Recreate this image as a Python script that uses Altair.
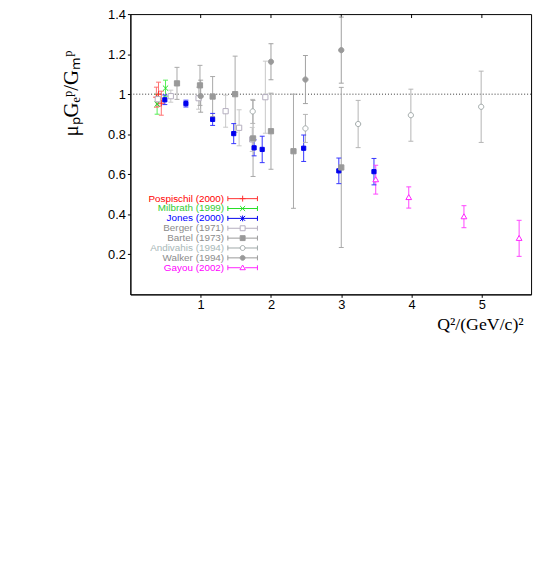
import altair as alt
import pandas as pd

# ---------------- data ----------------
series_names = ["Pospischil (2000)", "Milbrath (1999)", "Jones (2000)", "Berger (1971)",
                "Bartel (1973)", "Andivahis (1994)", "Walker (1994)", "Gayou (2002)"]

pos_q2 = [0.37, 0.40, 0.44]
pos_r = [0.985, 1.00, 0.955]
pos_e = [0.05, 0.06, 0.06]

mil_q2 = [0.38, 0.50]
mil_r = [0.95, 1.03]
mil_e = [0.05, 0.04]

jon_q2 = [0.49, 0.79, 1.17, 1.47, 1.76, 1.875, 2.465, 2.965, 3.465]
jon_r = [0.972, 0.953, 0.874, 0.803, 0.732, 0.724, 0.730, 0.617, 0.613]
jon_e = [0.024, 0.017, 0.030, 0.050, 0.040, 0.066, 0.066, 0.064, 0.066]

ber_q2 = [0.39, 0.575, 0.97, 1.355, 1.547, 1.733, 1.92]
ber_r = [0.975, 0.99, 0.98, 0.915, 0.832, 0.774, 0.985]
ber_e = [0.03, 0.03, 0.055, 0.08, 0.09, 0.06, 0.18]

bar_q2 = [0.663, 0.99, 1.17, 1.49, 1.745, 2.0, 2.32, 3.0]
bar_r = [1.054, 1.044, 0.988, 1.0, 0.779, 0.815, 0.715, 0.634]
bar_e = [0.08, 0.10, 0.10, 0.19, 0.19, 0.19, 0.285, 0.40]

and_q2 = [1.74, 2.49, 3.24, 3.99, 4.99]
and_r = [0.914, 0.829, 0.851, 0.895, 0.937]
and_e = [0.06, 0.07, 0.118, 0.13, 0.178]

wal_q2 = [1.0, 2.0, 2.49, 3.0]
wal_r = [0.99, 1.162, 1.073, 1.22]
wal_e = [0.08, 0.09, 0.12, 0.165]

gay_q2 = [3.49, 3.96, 4.745, 5.53]
gay_r = [0.573, 0.484, 0.388, 0.280]
gay_e = [0.072, 0.053, 0.055, 0.09]

y_ticks = [0.2, 0.4, 0.6, 0.8, 1.0, 1.2, 1.4]
x_ticks = [1, 2, 3, 4, 5]
ref_level = [1.0]

# ---------------- styling ----------------
stroke_colors = ["#ff3030", "#22dd22", "#0000ee", "#b4aebe", "#999999", "#a0a8a8", "#999999", "#ff22ff"]
fill_colors = ["#ff3030", "#22dd22", "#0000ee", "#ffffff", "#999999", "#ffffff", "#999999", "#ffffff"]
err_colors = ["#ff7070", "#55ee55", "#3333ff", "#c8c8c8", "#a8a8a8", "#b4b4b4", "#a0a0a0", "#ff44ff"]
label_colors = ["#ff0000", "#33cc33", "#0000ff", "#8c8c8c", "#8c8c8c", "#a8b8b8", "#8c8c8c", "#ff00ff"]

plot_paths = [
    "M-1.2,0H1.2M0,-1.2V1.2",
    "M-1,-1L1,1M-1,1L1,-1",
    "M-0.8,-0.8H0.8V0.8H-0.8Z",
    "M-1,-1H1V1H-1Z",
    "M-1,-1H1V1H-1Z",
    "M-1,0A1,1,0,1,0,1,0A1,1,0,1,0,-1,0Z",
    "M-1,0A1,1,0,1,0,1,0A1,1,0,1,0,-1,0Z",
    "M0,-1.1L1.1,0.8H-1.1Z",
]
# legend symbols: marker shifted to the right, with a horizontal error-bar line
legend_paths = [
    "M3.5,0H15.5M3.5,-1V1M15.5,-1V1M8.3,0H10.7M9.5,-1.2V1.2",
    "M3.5,0H15.5M3.5,-1V1M15.5,-1V1M8.5,-1L10.5,1M8.5,1L10.5,-1",
    "M3.5,0H15.5M3.5,-1V1M15.5,-1V1M8.5,-1L10.5,1M8.5,1L10.5,-1M9.5,-1.2V1.2",
    "M3.5,0H8.5M10.5,0H15.5M3.5,-1V1M15.5,-1V1M8.5,-1H10.5V1H8.5Z",
    "M3.5,0H8.5M10.5,0H15.5M3.5,-1V1M15.5,-1V1M8.5,-1H10.5V1H8.5Z",
    "M3.5,0H8.5M10.5,0H15.5M3.5,-1V1M15.5,-1V1M8.5,0A1,1,0,1,0,10.5,0A1,1,0,1,0,8.5,0Z",
    "M3.5,0H8.5M10.5,0H15.5M3.5,-1V1M15.5,-1V1M8.5,0A1,1,0,1,0,10.5,0A1,1,0,1,0,8.5,0Z",
    "M3.5,0H8.5M10.5,0H15.5M3.5,-1V1M15.5,-1V1M9.5,-1.1L10.6,0.8H8.4Z",
]

# ---------------- table ----------------
groups = [(pos_q2, pos_r, pos_e), (mil_q2, mil_r, mil_e), (jon_q2, jon_r, jon_e),
          (ber_q2, ber_r, ber_e), (bar_q2, bar_r, bar_e), (and_q2, and_r, and_e),
          (wal_q2, wal_r, wal_e), (gay_q2, gay_r, gay_e)]
rows = []
for name, (qs, rs, es) in zip(series_names, groups):
    for q, r, e in zip(qs, rs, es):
        rows.append({"series": name, "q2": q, "r": r, "lo": r - e, "hi": r + e})
df = pd.DataFrame(rows)
legend_df = pd.DataFrame({"series": series_names})
ref_df = pd.DataFrame({"v": ref_level})
top_df = pd.DataFrame({"t": x_ticks})

xscale = alt.Scale(domain=[0, 5.7], nice=False, zero=False)
yscale = alt.Scale(domain=[0, 1.4], nice=False, zero=False)

x_title = "Q²/(GeV/c)²"
y_title = "μₚGₑᵖ/Gₘᵖ"

x_axis = alt.Axis(values=x_ticks, format="d", tickSize=3, labelPadding=1, labelFontSize=13,
                  labelFont="Liberation Sans", labelColor="black", domainColor="black",
                  tickColor="black", grid=False, titleFont="Liberation Serif",
                  titleFontSize=18, titleFontWeight="normal", titleColor="black",
                  titleAlign="right", titleX=398, titleY=36, titleBaseline="alphabetic")
y_axis = alt.Axis(values=y_ticks, format=".1~f", tickSize=3, labelPadding=2, labelFontSize=13,
                  labelFont="Liberation Sans", labelColor="black", domainColor="black",
                  tickColor="black", grid=False, titleFont="Liberation Serif",
                  titleFontSize=21, titleFontWeight="normal", titleColor="black",
                  titleAngle=270, titleAlign="center", titleBaseline="alphabetic",
                  titleX=-54, titleY=80)

dom = series_names
X = lambda f: alt.X(f, scale=xscale, axis=x_axis, title=x_title)
Y = lambda f: alt.Y(f, scale=yscale, axis=y_axis, title=y_title)

ref_line = alt.Chart(ref_df).mark_rule(strokeDash=[1, 2], color="#333333", strokeWidth=1).encode(
    y=Y("v:Q"))

top_ticks = alt.Chart(top_df).mark_rule(color="black", strokeWidth=1).encode(
    x=X("t:Q"), y=alt.value(0), y2=alt.value(4))

err = alt.Chart(df).mark_rule(strokeWidth=1, opacity=1).encode(
    x=X("q2:Q"), y=Y("lo:Q"), y2="hi:Q",
    color=alt.Color("series:N", scale=alt.Scale(domain=dom, range=err_colors), legend=None))

caps = alt.Chart(df).transform_fold(["lo", "hi"], as_=["end", "yv"]).mark_tick(
    orient="horizontal", size=5, thickness=1, opacity=1).encode(
    x=X("q2:Q"), y=Y("yv:Q"),
    color=alt.Color("series:N", scale=alt.Scale(domain=dom, range=err_colors), legend=None))

points = alt.Chart(df).mark_point(size=28, strokeWidth=1, opacity=1).encode(
    x=X("q2:Q"), y=Y("r:Q"),
    shape=alt.Shape("series:N", scale=alt.Scale(domain=dom, range=plot_paths), legend=None),
    fill=alt.Fill("series:N", scale=alt.Scale(domain=dom, range=fill_colors), legend=None),
    stroke=alt.Stroke("series:N", scale=alt.Scale(domain=dom, range=stroke_colors), legend=None))

label_expr = "[" + ",".join("'%s'" % c for c in label_colors) + "][indexof([" + \
    ",".join("'%s'" % n for n in series_names) + "], datum.value)]"

leg = alt.Legend(orient="none", legendX=85, legendY=182, title=None, labelFontSize=10,
                 labelFont="Liberation Sans", labelAlign="right", labelOffset=0,
                 symbolSize=25, symbolStrokeWidth=1, rowPadding=0, padding=0,
                 labelColor=alt.ExprRef(expr=label_expr), labelLimit=300)

legend_layer = alt.Chart(legend_df).transform_filter("datum.series == 'none'").mark_point(
    size=25, strokeWidth=1, opacity=1).encode(
    shape=alt.Shape("series:N", scale=alt.Scale(domain=dom, range=legend_paths), legend=leg),
    fill=alt.Fill("series:N", scale=alt.Scale(domain=dom, range=fill_colors), legend=leg),
    stroke=alt.Stroke("series:N", scale=alt.Scale(domain=dom, range=stroke_colors), legend=leg))

chart = alt.layer(ref_line, top_ticks, err, caps, points, legend_layer).resolve_scale(
    shape="independent", fill="independent", stroke="independent"
).properties(
    width=406, height=284,
    padding={"left": 124, "top": 4, "right": 6, "bottom": 40},
    autosize=alt.AutoSizeParams(type="none"),
).configure_view(stroke="black", strokeWidth=1)

chart.save("out.html", embed_options={"renderer": "svg", "actions": False})
